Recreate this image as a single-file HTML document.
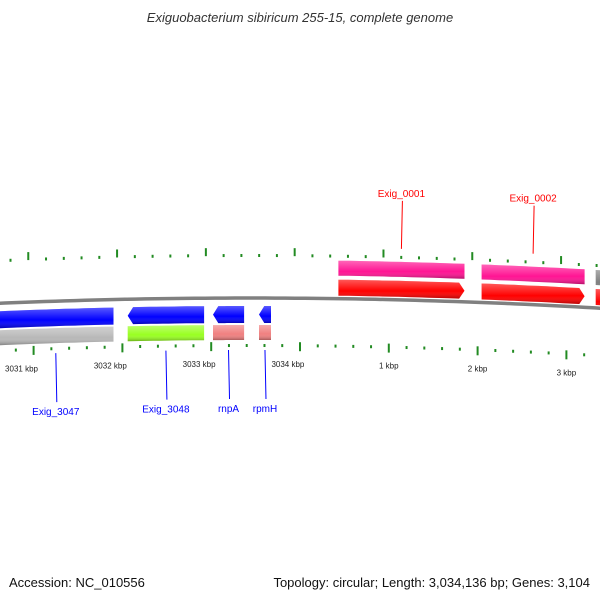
<!DOCTYPE html>
<html><head><meta charset="utf-8"><style>
body{margin:0;background:#fff;width:600px;height:600px;overflow:hidden;font-family:"Liberation Sans",sans-serif}
</style></head><body>
<svg id="map" width="600" height="600" viewBox="0 0 600 600" xmlns="http://www.w3.org/2000/svg">
<defs>
<linearGradient id="gshade" x1="0" y1="0" x2="0" y2="1"><stop offset="0" stop-color="#fff" stop-opacity="0.35"/><stop offset="0.6" stop-color="#fff" stop-opacity="0"/><stop offset="1" stop-color="#000" stop-opacity="0.3"/></linearGradient>
</defs>
<text x="300" y="22" text-anchor="middle" font-size="13" font-style="italic" fill="#333">Exiguobacterium sibiricum 255-15, complete genome</text>
<g id="g"></g>
<text x="9" y="587" font-size="13" fill="#111">Accession: NC_010556</text>
<text x="590" y="587" text-anchor="end" font-size="13" fill="#111">Topology: circular; Length: 3,034,136 bp; Genes: 3,104</text>
</svg>
<script>
const genomeLen = 3034136;
const geneNames = ["Exig_0001","Exig_0002","Exig_0003","Exig_3047","Exig_3048","rnpA","rpmH"];
const geneStarts = [432,2045,3330,-3400,-1940,-980,-462];
const geneEnds = [1852,3205,4300,-2100,-1080,-630,-327];
const geneStrand = [1,1,1,-1,-1,-1,-1];
const geneColor2 = ["#ff1493","#ff1493","#808080","#b8b8b8","#99ff22","#f08080","#f08080"];
const tickKbp = [-3,-2,-1,0,1,2,3];
const tickLabels = ["3031 kbp","3032 kbp","3033 kbp","3034 kbp","1 kbp","2 kbp","3 kbp"];
const labelled = ["Exig_0001","Exig_0002","Exig_3047","Exig_3048","rnpA","rpmH"];

const NS="http://www.w3.org/2000/svg", G=document.getElementById('g');
const X0=300, PXBP=0.0888;
function yb(x){return 298+(x-250)*(x-250)/12000;}
function P(bp,d){const x=X0+bp*PXBP;return [x,yb(x)-d];}
function mk(t,a){const e=document.createElementNS(NS,t);for(const k in a)e.setAttribute(k,a[k]);G.appendChild(e);return e;}
function band(b0,b1,d0,d1,arrow){
  let pts=[];const n=12;
  let s0=b0,s1=b1,ah=60;
  if(arrow===1)s1=b1-ah; if(arrow===-1)s0=b0+ah;
  for(let i=0;i<=n;i++)pts.push(P(s0+(s1-s0)*i/n,d1));
  if(arrow===1){pts.push(P(b1,(d0+d1)/2));}
  for(let i=n;i>=0;i--)pts.push(P(s0+(s1-s0)*i/n,d0));
  if(arrow===-1){pts.push(P(b0,(d0+d1)/2));}
  return pts.map(p=>p[0].toFixed(1)+','+p[1].toFixed(1)).join(' ');
}
let bb=[];for(let x=-5;x<=605;x+=10)bb.push(x+','+yb(x).toFixed(1));
let e=mk('polyline',{points:bb.join(' '),fill:'none',stroke:'#808080','stroke-width':3.5});


for(let i=0;i<geneNames.length;i++){
  const s=geneStrand[i];
  const c1=s>0?'#ff0000':'#0000ff';
  const d0=s>0?3:-8, d1=s>0?19:-25;
  const arrow=(geneNames[i]==="Exig_3047"||geneNames[i]==="Exig_0003")?0:s;
  let g1=mk('polygon',{points:band(geneStarts[i],geneEnds[i],d0,d1,arrow),fill:c1});
  
  
  let g1s=mk('polygon',{points:band(geneStarts[i],geneEnds[i],d0,d1,arrow),fill:'url(#gshade)'});
  
  
  const e0=s>0?23:-27, e1=s>0?38:-42;
  let g2=mk('polygon',{points:band(geneStarts[i],geneEnds[i],e0,e1,0),fill:geneColor2[i]});
  
  
  let g2s=mk('polygon',{points:band(geneStarts[i],geneEnds[i],e0,e1,0),fill:'url(#gshade)'});
  
  
}
for(let k=-4;k<=4;k+=0.2){
  const kk=Math.round(k*10)/10, major=Math.abs(kk-Math.round(kk))<0.01;
  const bp=kk*1000;
  const a=P(bp,major?-44:-46), b=P(bp,major?-53:-49);
  let t=mk('line',{x1:a[0],y1:a[1],x2:b[0],y2:b[1],stroke:'#228b22','stroke-width':2});
  
  
  const bp2=bp-60;
  const c=P(bp2,major?50:44), d=P(bp2,major?42:41);
  let t2=mk('line',{x1:c[0],y1:c[1],x2:d[0],y2:d[1],stroke:'#228b22','stroke-width':2});
  
  
}
for(let i=0;i<tickKbp.length;i++){
  const p=P(tickKbp[i]*1000-(tickKbp[i]<=0?136:0),-69);
  let t=mk('text',{x:p[0],y:p[1],'font-size':8,'text-anchor':'middle',fill:'#222'});
  t.textContent=tickLabels[i];
  
  
}
for(const nm of labelled){
  const i=geneNames.indexOf(nm), s=geneStrand[i];
  const mid=(geneStarts[i]+geneEnds[i])/2;
  const col=s>0?'#ff0000':'#0000ff';
  const a=P(mid,s>0?48:-45);
  const ly=s>0?a[1]-57:a[1]+68;
  let l=mk('line',{x1:a[0],y1:a[1]-(s>0?3:-7),x2:a[0]+1,y2:ly+(s>0?6:-12),stroke:col,'stroke-width':1});
  
  
  let t=mk('text',{x:a[0],y:ly+(s>0?2:1),'font-size':10,'text-anchor':'middle',fill:col});
  t.textContent=nm;
  
  
}
</script>
</body></html>
